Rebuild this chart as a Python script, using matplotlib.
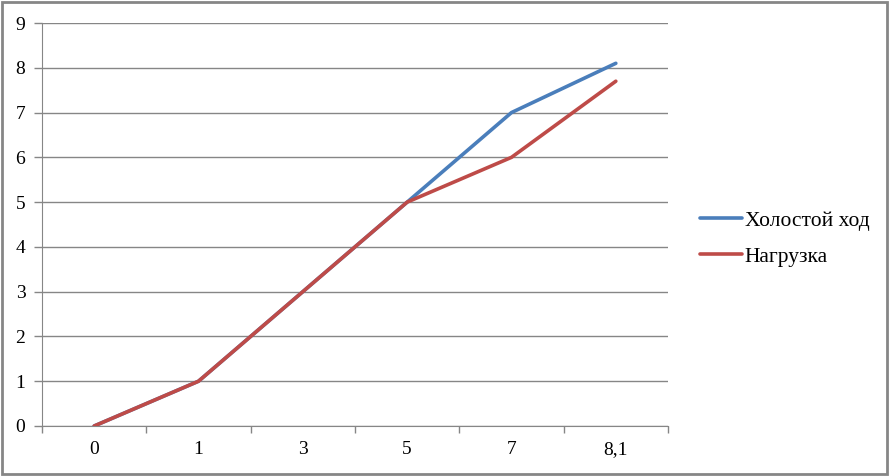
import matplotlib
matplotlib.use("Agg")
import matplotlib.pyplot as plt
from matplotlib.patches import Rectangle

categories = ["0", "1", "3", "5", "7", "8,1"]
idle = [0, 1, 3, 5, 7, 8.1]
load = [0, 1, 3, 5, 6, 7.7]
labels = ["Холостой ход", "Нагрузка"]

plt.rcParams["font.family"] = ["Liberation Serif", "DejaVu Serif"]

fig = plt.figure(figsize=(8.91, 4.76), dpi=100)
ax = fig.add_axes([42 / 891, 1 - 426 / 476, 626 / 891, 403 / 476])

x = range(len(categories))
ax.plot(x, idle, color="#4A7EBB", lw=2.6, solid_capstyle="round", label=labels[0], zorder=3)
ax.plot(x, load, color="#BE4B48", lw=2.6, solid_capstyle="round", label=labels[1], zorder=4)

ax.set_xlim(-0.5, len(categories) - 0.5)
ax.set_ylim(0, 9)
ax.set_yticks(range(10))
ax.yaxis.grid(True, color="#868686", lw=1)
ax.set_axisbelow(True)

ax.set_xticks([i - 0.5 for i in range(len(categories) + 1)])
ax.set_xticklabels([])
ax.set_xticks(list(x), minor=True)
ax.set_xticklabels(categories, minor=True)
ax.tick_params(axis="x", which="major", length=5, color="#868686", width=1)
ax.tick_params(axis="x", which="minor", length=0, pad=11, labelsize=14)
ax.tick_params(axis="y", length=6, color="#868686", width=1, labelsize=14, pad=6)

for s in ["top", "right"]:
    ax.spines[s].set_visible(False)
for s in ["left", "bottom"]:
    ax.spines[s].set_color("#868686")

ax.legend(loc="center left", bbox_to_anchor=(1.051, 0.465), frameon=False,
          fontsize=15.5, handlelength=1.95, handletextpad=0.14, labelspacing=0.73,
          borderaxespad=0, borderpad=0)

fig.patches.append(Rectangle((0.002, 0.004), 0.994, 0.992, transform=fig.transFigure,
                             fill=False, edgecolor="#868686", lw=2))

fig.savefig("out.png", dpi=100)
